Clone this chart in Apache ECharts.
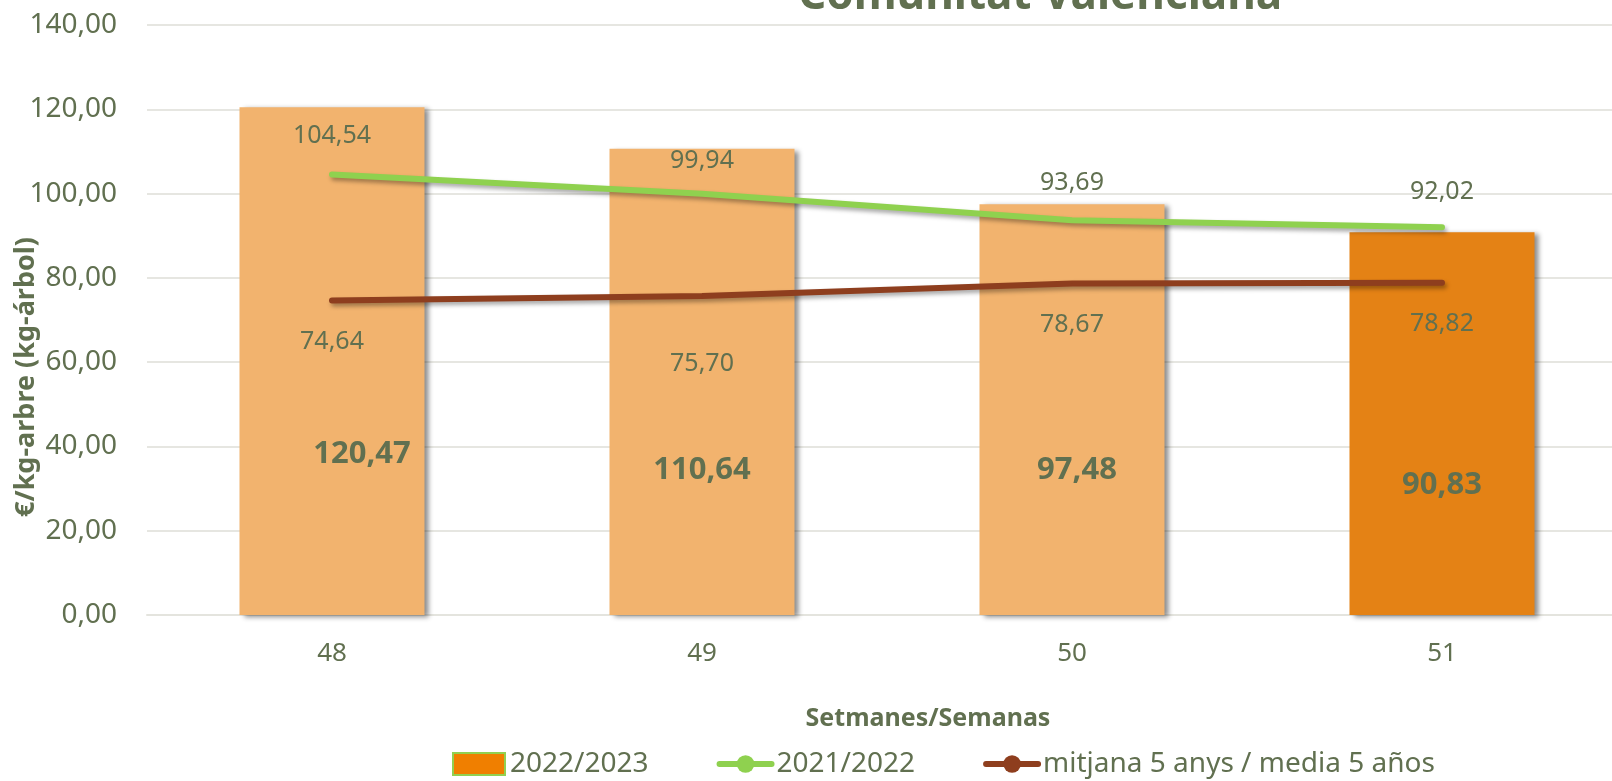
<!DOCTYPE html>
<html>
<head>
<meta charset="utf-8">
<script src="https://cdn.jsdelivr.net/npm/echarts@6/dist/echarts.min.js"></script>
<style>
  html, body { margin: 0; padding: 0; background: #fff; }
  #chart { width: 1612px; height: 781px; }
</style>
</head>
<body>
<div id="chart"></div>
<script>
// setmanes / semanas
const weeks = ["48", "49", "50", "51"];
// preus €/kg-arbre
const season2223 = [120.47, 110.64, 97.48, 90.83];
const season2122 = [104.54, 99.94, 93.69, 92.02];
const avg5years = [74.64, 75.70, 78.67, 78.82];

const textColor = "#617050";
const font = "'Noto Sans', 'Open Sans', sans-serif";
const fmt = (v) => v.toFixed(2).replace(".", ",");

// label nudges
const barLabelX = [30, 0, 5, 0];
const barLabelDist = [145, 129, 129, 114];
const lastLabelOffset = [[0, 0], [0, 6], [0, 2], [0, 4]];
const avgLabelOffset = [[0, 2], [0, 29], [0, 2], [0, 2]];

const lineShadow = {
  shadowColor: "rgba(0,0,0,0.35)",
  shadowBlur: 4,
  shadowOffsetX: 2,
  shadowOffsetY: 3,
};

const chart = echarts.init(document.getElementById("chart"));

chart.setOption({
  animation: false,
  textStyle: { fontFamily: font },
  title: [
    {
      text: "Comunitat Valenciana",
      left: 1035,
      top: -31,
      textAlign: "center",
      textStyle: { fontSize: 44, fontWeight: "bold", color: textColor, fontFamily: font },
    },
    {
      text: "Setmanes/Semanas",
      left: 923,
      top: 701,
      textAlign: "center",
      textStyle: { fontSize: 25, fontWeight: "bold", color: textColor, fontFamily: font },
    },
  ],
  grid: { left: 147, right: -15, top: 25, bottom: 166, outerBoundsMode: "none" },
  legend: {
    bottom: -2,
    left: 447,
    itemGap: 68,
    itemWidth: 52,
    itemHeight: 22,
    textStyle: { fontSize: 28, color: textColor },
    data: [
      {
        name: "2022/2023",
        icon: "rect",
        itemStyle: { color: "#f07f00", borderColor: "#92d050", borderWidth: 2 },
      },
      { name: "2021/2022", lineStyle: { width: 6, shadowBlur: 0, shadowOffsetX: 0, shadowOffsetY: 0 } },
      { name: "mitjana 5 anys / media 5 años", lineStyle: { width: 6, shadowBlur: 0, shadowOffsetX: 0, shadowOffsetY: 0 } },
    ],
  },
  xAxis: {
    type: "category",
    data: weeks,
    axisLine: { lineStyle: { color: "#e4e4de", width: 2 } },
    axisTick: { show: false },
    axisLabel: { fontSize: 26, color: textColor, margin: 26 },
  },
  yAxis: {
    type: "value",
    min: 0,
    max: 140,
    interval: 20,
    name: "€/kg-arbre (kg-árbol)",
    nameLocation: "middle",
    nameGap: 107,
    nameMoveOverlap: false,
    nameTextStyle: {
      fontSize: 27,
      fontWeight: "bold",
      color: textColor,
      padding: [0, 114, 0, 0],
    },
    axisLine: { show: false },
    axisTick: { show: false },
    axisLabel: { fontSize: 28, color: textColor, margin: 30, formatter: fmt },
    splitLine: { lineStyle: { color: "#e6e6e1", width: 2 } },
  },
  series: [
    {
      name: "2022/2023",
      type: "bar",
      barWidth: "50%",
      color: "#f07f00",
      data: season2223.map((v, i) => ({
        value: v,
        itemStyle: {
          color: i === season2223.length - 1 ? "#e48215" : "#f2b36e",
          shadowColor: "rgba(0,0,0,0.45)",
          shadowBlur: 5,
          shadowOffsetX: 4,
          shadowOffsetY: 2,
        },
        label: {
          show: true,
          position: "insideBottom",
          distance: barLabelDist[i],
          offset: [barLabelX[i], 0],
        },
      })),
      label: {
        show: true,
        fontSize: 31,
        fontWeight: "bold",
        color: textColor,
        formatter: (p) => fmt(p.value),
      },
      z: 1,
    },
    {
      name: "2021/2022",
      type: "line",
      symbol: "circle",
      symbolSize: 1,
      color: "#8fd14f",
      itemStyle: { color: "#8fd14f" },
      data: season2122.map((v, i) => ({
        value: v,
        label: { offset: lastLabelOffset[i] },
      })),
      lineStyle: Object.assign({ width: 6, color: "#8fd14f", cap: "round" }, lineShadow),
      label: {
        show: true,
        position: "top",
        distance: 26,
        fontSize: 25,
        color: textColor,
        formatter: (p) => fmt(p.value),
      },
      z: 3,
    },
    {
      name: "mitjana 5 anys / media 5 años",
      type: "line",
      symbol: "circle",
      symbolSize: 1,
      color: "#8e3e1e",
      itemStyle: { color: "#8e3e1e" },
      data: avg5years.map((v, i) => ({
        value: v,
        label: { offset: avgLabelOffset[i] },
      })),
      lineStyle: Object.assign({ width: 6, color: "#8e3e1e", cap: "round" }, lineShadow),
      label: {
        show: true,
        position: "bottom",
        distance: 26,
        fontSize: 25,
        color: textColor,
        formatter: (p) => fmt(p.value),
      },
      z: 3,
    },
  ],
});
</script>
</body>
</html>
